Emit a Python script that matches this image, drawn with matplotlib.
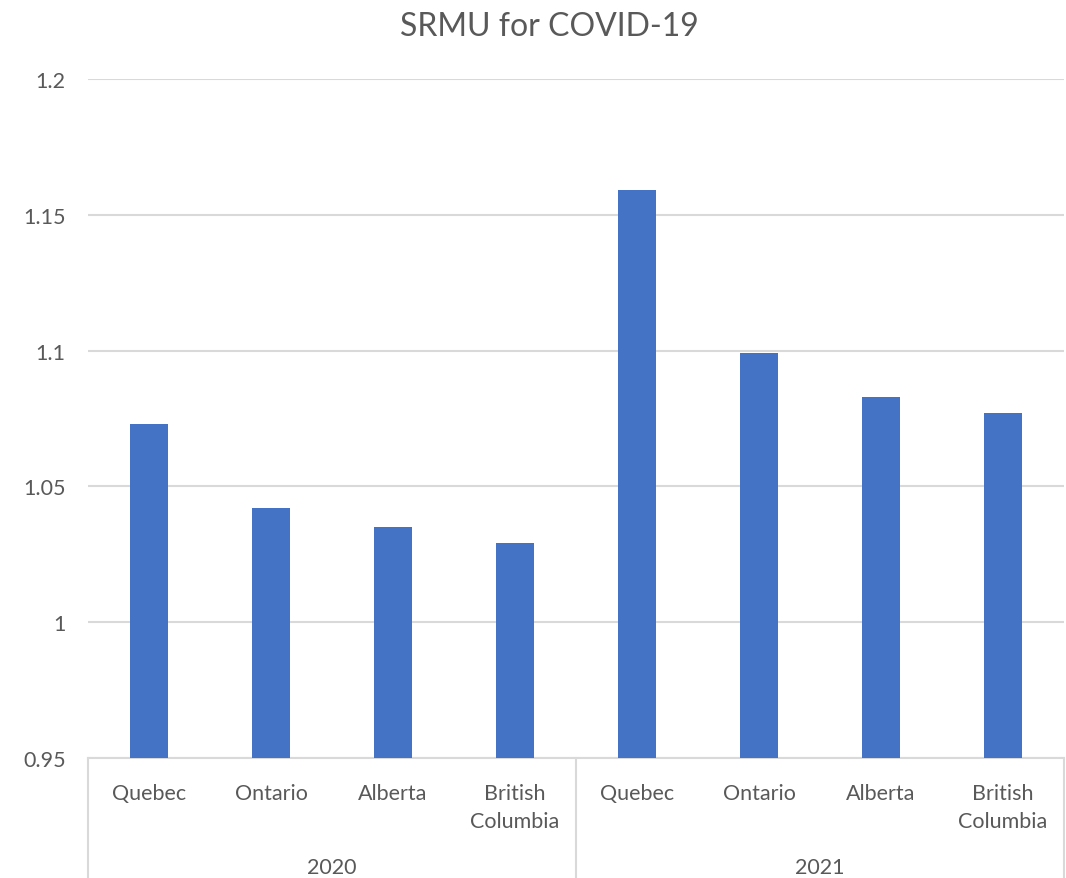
import matplotlib
matplotlib.use("Agg")
import matplotlib.pyplot as plt
import matplotlib.transforms as mtransforms

years = ["2020", "2021"]
provinces = ["Quebec", "Ontario", "Alberta", "British\nColumbia"]
values_2020 = [1.073, 1.042, 1.035, 1.029]
values_2021 = [1.159, 1.099, 1.083, 1.077]
y_ticks = [0.95, 1.0, 1.05, 1.1, 1.15, 1.2]
y_tick_labels = ["0.95", "1", "1.05", "1.1", "1.15", "1.2"]

plt.rcParams['font.family'] = ['Lato', 'DejaVu Sans']
text_color = "#595959"
grid_color = "#D9D9D9"
bar_color = "#4472C4"

fig = plt.figure(figsize=(10.66, 8.79), dpi=100)
W, H = 1066, 879
left, right, top, bottom = 88, 1064, 80, 759
ax = fig.add_axes([left / W, 1 - bottom / H, (right - left) / W, (bottom - top) / H])

values = values_2020 + values_2021
labels = provinces * len(years)
x = list(range(len(values)))
ax.bar(x, values, width=0.31, color=bar_color, zorder=3)

ax.set_xlim(-0.5, len(values) - 0.5)
ax.set_ylim(0.95, 1.2)
ax.set_yticks(y_ticks)
ax.set_yticklabels(y_tick_labels)
ax.yaxis.grid(True, color=grid_color, linewidth=1.5, zorder=0)
ax.set_axisbelow(True)
for s in ["left", "right", "top"]:
    ax.spines[s].set_visible(False)
ax.spines["bottom"].set_color(grid_color)
ax.spines["bottom"].set_linewidth(1.5)
ax.tick_params(axis="y", length=0, pad=16, labelsize=15.5, labelcolor=text_color)
ax.set_xticks(x)
ax.set_xticklabels(labels, linespacing=1.5)
ax.tick_params(axis="x", length=0, pad=18, labelsize=15.5, labelcolor=text_color)

trans = mtransforms.blended_transform_factory(ax.transData, ax.transAxes)
bottom_frac = -(H - bottom) / (bottom - top)
n = len(provinces)
for i in range(len(years) + 1):
    xpos = i * n - 0.5
    ax.plot([xpos, xpos], [0, bottom_frac], transform=trans, color=grid_color,
            linewidth=1.5, clip_on=False)
for i, yr in enumerate(years):
    ax.text(i * n + (n - 1) / 2, -0.161, yr, transform=trans, ha="center", va="center",
            fontsize=15.5, color=text_color)

fig.text(549 / W, 1 - 27 / H, "SRMU for COVID-19", ha="center", va="center",
         fontsize=23, color=text_color)

fig.savefig("out.png", dpi=100)
